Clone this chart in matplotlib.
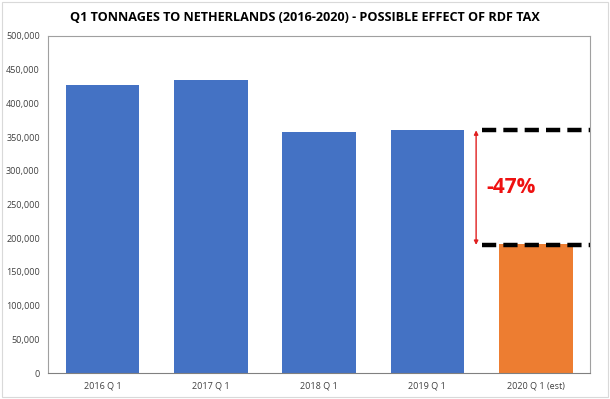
import numpy as np
import matplotlib
matplotlib.use('Agg')
import matplotlib.pyplot as plt
from matplotlib.ticker import FuncFormatter

categories = ["2016 Q 1", "2017 Q 1", "2018 Q 1", "2019 Q 1", "2020 Q 1 (est)"]
tonnages = [427500, 434500, 357500, 361000, 192000]
bar_colors = ["#4472C4", "#4472C4", "#4472C4", "#4472C4", "#ED7D31"]
level_before = 360000
level_after = 190000
change_label = "-47%"

plt.rcParams['font.family'] = ['Open Sans', 'DejaVu Sans']

fig = plt.figure(figsize=(6.1, 3.99), dpi=100)
ax = fig.add_axes([0.079, 0.065, 0.888, 0.845])

x = np.arange(len(categories))
ax.bar(x, tonnages, width=0.68, color=bar_colors, zorder=2)

ax.set_xlim(-0.5, len(categories) - 0.5)
ax.set_ylim(0, 500000)
ax.set_yticks(np.arange(0, 500001, 50000))
ax.yaxis.set_major_formatter(FuncFormatter(lambda v, p: f"{int(v):,}"))
ax.set_xticks(x)
ax.set_xticklabels(categories)
ax.tick_params(axis='both', length=0, labelsize=6.5, colors='#404040', pad=6)

for s in ax.spines.values():
    s.set_color('#a0a0a0')
    s.set_linewidth(0.8)
ax.spines['bottom'].set_color('#808080')

# dashed reference levels and change arrow
ax.plot([3.5, 4.5], [level_before, level_before], color='black', lw=3.2,
        dashes=(3.2, 1.6), zorder=3, solid_capstyle='butt')
ax.plot([3.5, 4.5], [level_after, level_after], color='black', lw=3.2,
        dashes=(3.2, 1.6), zorder=3, solid_capstyle='butt')
ax.annotate('', xy=(3.45, level_after), xytext=(3.45, level_before),
            arrowprops=dict(arrowstyle='<|-|>', color='#E02020', lw=1,
                            mutation_scale=6, shrinkA=0, shrinkB=0))
ax.text(3.77, (level_before + level_after) / 2, change_label,
        color='#EE1111', fontsize=15, fontweight='bold', ha='center', va='center')

fig.text(0.5, 0.955, "Q1 TONNAGES TO NETHERLANDS (2016-2020) - POSSIBLE EFFECT OF RDF TAX",
         ha='center', va='center', fontsize=9.1, fontweight='bold', color='#000000')

fig.patches.append(plt.Rectangle((0.003, 0.005), 0.994, 0.99, transform=fig.transFigure,
                                 fill=False, edgecolor='#d9d9d9', lw=0.8))

fig.savefig('out.png', dpi=100)
